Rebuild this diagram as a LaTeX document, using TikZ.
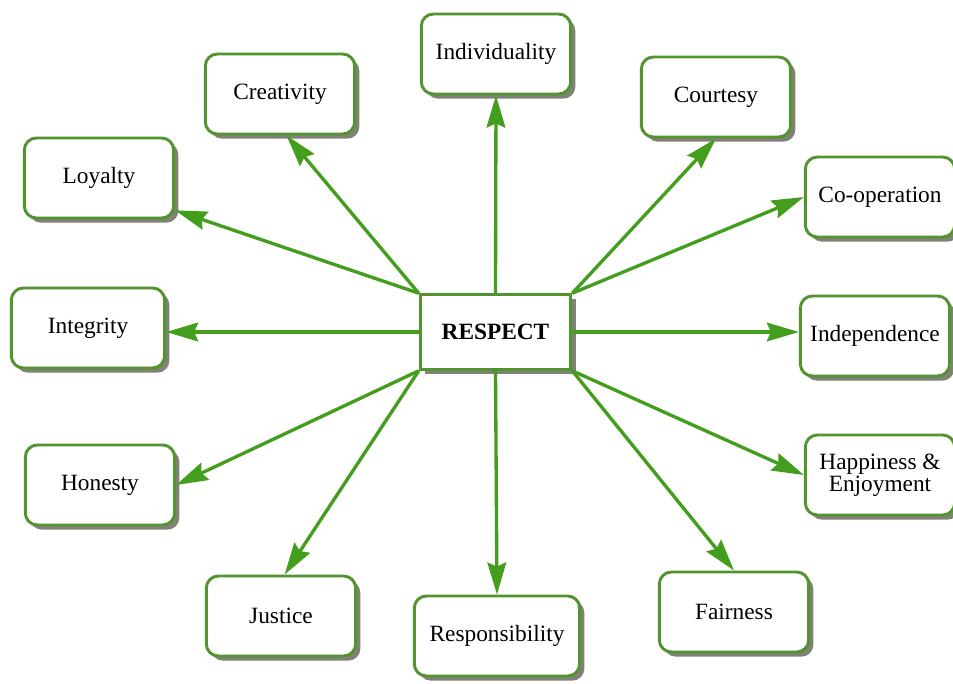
\documentclass[tikz,border=0pt]{standalone}
\usepackage{fontspec}
\setmainfont{Liberation Serif}
\usetikzlibrary{arrows.meta,shadows}
\definecolor{boxgreen}{RGB}{82,148,48}
\definecolor{arrowgreen}{RGB}{68,158,30}
\definecolor{shadowgray}{RGB}{128,130,118}
\tikzset{
  item/.style={draw=boxgreen, line width=2.2pt, fill=white, rounded corners=9pt,
    minimum width=112pt, minimum height=60pt, align=center, inner sep=2pt,
    font=\fontsize{17.5}{16.5}\selectfont,
    drop shadow={shadow xshift=3.5pt, shadow yshift=-3.5pt, fill=shadowgray, opacity=1}},
  hub/.style={draw=boxgreen, line width=2.2pt, fill=white,
    minimum width=113pt, minimum height=56pt, font=\fontsize{17.5}{20}\selectfont\bfseries,
    drop shadow={shadow xshift=3.5pt, shadow yshift=-3.5pt, fill=shadowgray, opacity=1}},
  link/.style={draw=arrowgreen, line width=2.5pt,
    -{Stealth[length=24pt,width=14pt,inset=3pt]}},
}
\begin{document}
\begin{tikzpicture}[x=0.75pt,y=-0.75pt]
\fill[white] (0,0) rectangle (953,683);
\useasboundingbox (0,0) rectangle (953,683);

\node[hub] (R) at (495.5,332) {RESPECT};

\node[item] (indiv) at (496,54) {Individuality};
\node[item] (creat) at (280,94) {Creativity};
\node[item] (court) at (716,97) {Courtesy};
\node[item] (loy) at (99,178) {Loyalty};
\node[item] (coop) at (880,197) {Co-operation};
\node[item, minimum width=115pt] (integ) at (88,328) {Integrity};
\node[item] (indep) at (875,336) {Independence};
\node[item] (hon) at (100,485) {Honesty};
\node[item] (happy) at (880,475) {Happiness \&\\Enjoyment};
\node[item] (just) at (281,616) {Justice};
\node[item, minimum width=124pt] (resp) at (497,636) {Responsibility};
\node[item] (fair) at (734,612) {Fairness};

\draw[link] (R.north) -- (indiv.south);
\draw[link] (R.north west) -- (creat.-81);
\draw[link] (R.north west) -- (loy.-23);
\draw[link] (R.west) -- (R.west -| integ.east);
\draw[link] (R.south west) -- (hon.east);
\draw[link] (R.south west) -- (just.85);
\draw[link] (R.south) -- (resp.north);
\draw[link] (R.north east) -- (court.south);
\draw[link] (R.north east) -- (coop.west);
\draw[link] (R.east) -- (R.east -| indep.west);
\draw[link] (R.south east) -- (happy.west);
\draw[link] (R.south east) -- (fair.north);
\end{tikzpicture}
\end{document}
